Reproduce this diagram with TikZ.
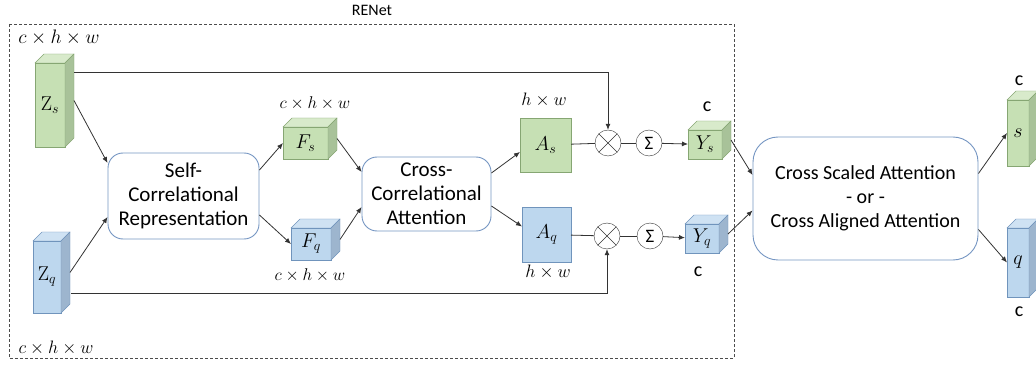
\documentclass[tikz,border=0pt]{standalone}
\usepackage{fix-cm}
\usepackage[no-math]{fontspec}
\setmainfont{Carlito}
\usetikzlibrary{arrows.meta}
\definecolor{gfront}{HTML}{C6E0B4}
\definecolor{gtop}{HTML}{D8EACB}
\definecolor{gside}{HTML}{A8C299}
\definecolor{gline}{HTML}{86A673}
\definecolor{bfront}{HTML}{BDD7EE}
\definecolor{btop}{HTML}{CFE2F3}
\definecolor{bside}{HTML}{9DB5CE}
\definecolor{bline}{HTML}{7094BC}
\definecolor{boxline}{HTML}{7495C2}
\tikzset{proc node/.style={draw=boxline,line width=0.9pt,rounded corners=15pt,align=center,inner sep=0pt,
    font=\fontsize{21}{24}\selectfont},
  green node/.style={draw=gline,fill=gfront,inner sep=0pt,outer sep=0pt},
  blue node/.style={draw=bline,fill=bfront,inner sep=0pt,outer sep=0pt},
  op node/.style={circle,draw=black!80,minimum size=26pt,inner sep=0pt,font=\fontsize{19}{22}\selectfont},
  dim/.style={font=\fontsize{18}{21}\selectfont},
  conn/.style={draw=black!80,line width=0.8pt,-{Latex[length=6pt,width=5pt]}},
  plain/.style={draw=black!80,line width=0.8pt},
}
\newcommand{\addfaces}[2]{%
  \filldraw[fill=#2top,draw=#2line] (#1.north west) -- ++(9,-9) -- ([shift={(9,-9)}]#1.north east) -- (#1.north east) -- cycle;
  \filldraw[fill=#2side,draw=#2line] (#1.north east) -- ++(9,-9) -- ([shift={(9,-9)}]#1.south east) -- (#1.south east) -- cycle;
  \coordinate (#1r) at ([shift={(9,-4.5)}]#1.east);
}

\begin{document}
\begin{tikzpicture}[x=1pt,y=-1pt]
	\useasboundingbox (0,0) rectangle (1036,366);
	\draw[black!70,dash pattern=on 3pt off 2pt] (9,24) rectangle (734,358);
	\node[font=\fontsize{16}{19}\selectfont] (title) at (372,10) {RENet};
	
	\node[green node,minimum width=30pt,minimum height=84pt] (zs) at (50,105) {\fontsize{20}{22}\selectfont$\mathrm{Z}_s$};
	\node[blue node,minimum width=28pt,minimum height=72pt] (zq) at (47,277) {\fontsize{20}{22}\selectfont$\mathrm{Z}_q$};
	\node[green node,minimum width=45pt,minimum height=32pt] (fs) at (305.5,143) {\fontsize{20}{22}\selectfont$F_s$};
	\node[blue node,minimum width=40pt,minimum height=32pt] (fq) at (311,244) {\fontsize{20}{22}\selectfont$F_q$};
	\node[green node,minimum width=34pt,minimum height=29pt] (ys) at (705,144.5) {\fontsize{20}{22}\selectfont$Y_s$};
	\node[blue node,minimum width=34pt,minimum height=29pt] (yq) at (702,238.5) {\fontsize{20}{22}\selectfont$Y_q$};
	\node[green node,minimum width=22pt,minimum height=66pt] (outs) at (1018,133) {\fontsize{20}{22}\selectfont$s$};
	\node[blue node,minimum width=22pt,minimum height=69pt] (outq) at (1018,262.5) {\fontsize{20}{22}\selectfont$q$};
	\addfaces{zs}{g}
	\addfaces{zq}{b}
	\addfaces{fs}{g}
	\addfaces{fq}{b}
	\addfaces{ys}{g}
	\addfaces{yq}{b}
	\addfaces{outs}{g}
	\addfaces{outq}{b}
	
	\node[green node,minimum width=51pt,minimum height=54pt] (as) at (545.5,145) {\fontsize{20}{22}\selectfont$A_s$};
	\node[blue node,minimum width=49pt,minimum height=55pt] (aq) at (546.5,234.5) {\fontsize{20}{22}\selectfont$A_q$};
	
	\node[proc node,minimum width=151pt,minimum height=86pt] (selfcorr) at (183.5,196) {Self-\\Correlational\\Representation};
	\node[proc node,minimum width=129pt,minimum height=74pt] (crosscorr) at (426.5,194) {Cross-\\Correlational\\Attention};
	\node[proc node,rounded corners=25pt,minimum width=225pt,minimum height=123pt,font=\fontsize{20}{24}\selectfont] (fusion) at (865.5,198.5) {Cross Scaled Attention\\- or -\\Cross Aligned Attention};
	
	\node[op node] (mul1) at (608,143) {};
	\node[op node] (mul2) at (607,236) {};
	\node[op node] (sum1) at (649,143) {Σ};
	\node[op node] (sum2) at (650,236) {Σ};
	\draw[black!80] (mul1.north east) -- (mul1.south west) (mul1.north west) -- (mul1.south east);
	\draw[black!80] (mul2.north east) -- (mul2.south west) (mul2.north west) -- (mul2.south east);
	
	\node[dim,font=\fontsize{19.5}{21}\selectfont] (dzs) at (59,38) {$c\times h\times w$};
	\node[dim] (dzq) at (56,348) {$c\times h\times w$};
	\node[dim,font=\fontsize{17}{19}\selectfont] (dfs) at (315,103) {$c\times h\times w$};
	\node[dim,font=\fontsize{17}{19}\selectfont] (dfq) at (310,275) {$c\times h\times w$};
	\node[dim] (das) at (544,100) {$h\times w$};
	\node[dim] (daq) at (548,272) {$h\times w$};
	\node[dim,font=\fontsize{20}{22}\selectfont] (dys) at (707,107) {c};
	\node[dim,font=\fontsize{20}{22}\selectfont] (dyq) at (698,272) {c};
	\node[dim,font=\fontsize{20}{22}\selectfont] (douts) at (1019,81) {c};
	\node[dim,font=\fontsize{20}{22}\selectfont] (doutq) at (1019,312) {c};
	
	\coordinate (zstop) at (74,72);
	\coordinate (zqbot) at (71,293);
	\draw[conn] (zstop) -| (mul1);
	\draw[conn] (zqbot) -| (mul2);
	\draw[conn] (zsr) -- ([yshift=33pt]selfcorr.west);
	\draw[conn] (zqr) -- ([yshift=-21pt]selfcorr.west);
	\draw[conn] ([yshift=26pt]selfcorr.east) -- (fs.west);
	\draw[conn] ([yshift=-19pt]selfcorr.east) -- (fq.west);
	\draw[conn] (fsr) -- ([yshift=22pt]crosscorr.west);
	\draw[conn] (fqr) -- ([yshift=-13pt]crosscorr.west);
	\draw[conn] ([yshift=21pt]crosscorr.east) -- ([yshift=-7pt]as.west);
	\draw[conn] ([yshift=-12pt]crosscorr.east) -- ([yshift=8pt]aq.west);
	\draw[plain] (as) -- (mul1);
	\draw[plain] (aq) -- (mul2);
	\draw[plain] (mul1) -- (sum1);
	\draw[plain] (mul2) -- (sum2);
	\draw[conn] (sum1) -- (ys);
	\draw[conn] (sum2) -- (yq);
	\draw[conn] (ysr) -- ([yshift=23.5pt]fusion.west);
	\draw[conn] (yqr) -- ([yshift=-12pt]fusion.west);
	\draw[conn] ([yshift=25pt]fusion.east) -- (outs.west);
	\draw[conn] ([yshift=-31pt]fusion.east) -- (outq.west);
\end{tikzpicture}
\end{document}
